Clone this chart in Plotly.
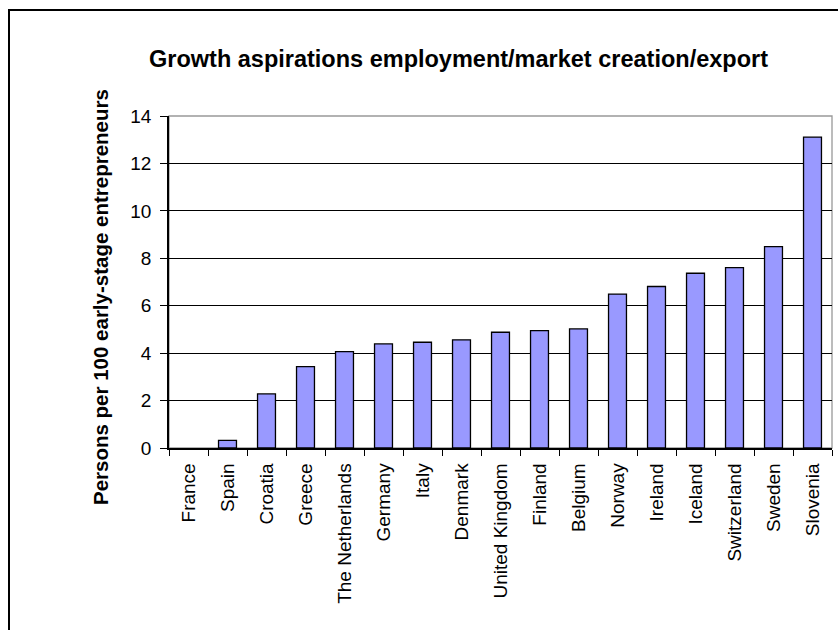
import plotly.graph_objects as go

countries = ["France", "Spain", "Croatia", "Greece", "The Netherlands", "Germany", "Italy",
             "Denmark", "United Kingdom", "Finland", "Belgium", "Norway", "Ireland",
             "Iceland", "Switzerland", "Sweden", "Slovenia"]
values = [0.0, 0.32, 2.28, 3.43, 4.06, 4.39, 4.46, 4.56, 4.88, 4.95, 5.02, 6.49, 6.81,
          7.37, 7.61, 8.49, 13.11]
y_ticks = [0, 2, 4, 6, 8, 10, 12, 14]

W, H = 838, 630
L, R, T, B = 169, 6, 116, 182
pw = W - L - R
ph = H - T - B

outline_w = [0 if v == 0 else 1.3 for v in values]

fig = go.Figure(go.Bar(
    x=countries, y=values,
    marker=dict(color="#9999FF", line=dict(color="black", width=outline_w)),
))

font = "Liberation Sans, Arial, sans-serif"
fig.update_layout(
    width=W, height=H, margin=dict(l=L, r=R, t=T, b=B),
    paper_bgcolor="white", plot_bgcolor="white",
    bargap=0.54, showlegend=False,
    font=dict(family=font, color="black", size=19),
    xaxis=dict(showline=True, linecolor="black", linewidth=1.5, ticks="outside",
               tickson="boundaries", ticklen=6, tickcolor="black", tickwidth=1.3,
               tickangle=-90, ticklabelstandoff=6,
               tickfont=dict(size=19), showgrid=False),
    yaxis=dict(range=[0, 14], tickvals=y_ticks, showline=True, linecolor="black",
               linewidth=1.5, ticks="outside", ticklen=7, tickcolor="black", tickwidth=1.3,
               ticklabelstandoff=5,
               showgrid=True, gridcolor="black", gridwidth=1.2, zeroline=False,
               tickfont=dict(size=19)),
    shapes=[
        dict(type="rect", xref="paper", yref="paper", x0=0, x1=1, y0=0, y1=1,
             line=dict(color="#999999", width=1.3), layer="below"),
        dict(type="rect", xref="paper", yref="paper",
             x0=(9 - L) / pw, x1=(W + 10 - L) / pw,
             y0=-(B + 10) / ph, y1=(H - 10 - B) / ph,
             line=dict(color="black", width=2)),
    ],
    annotations=[
        dict(text="<b>Growth aspirations employment/market creation/export</b>",
             xref="paper", yref="paper", x=(458 - L) / pw, y=(H - 59 - B) / ph,
             showarrow=False, font=dict(size=23.5, family=font), xanchor="center",
             yanchor="middle"),
        dict(text="<b>Persons per 100 early-stage entrepreneurs</b>",
             xref="paper", yref="paper", x=(100 - L) / pw, y=(H - 297 - B) / ph,
             showarrow=False, textangle=-90, font=dict(size=20.5, family=font),
             xanchor="center", yanchor="middle"),
    ],
)

fig.write_html("out.html")
